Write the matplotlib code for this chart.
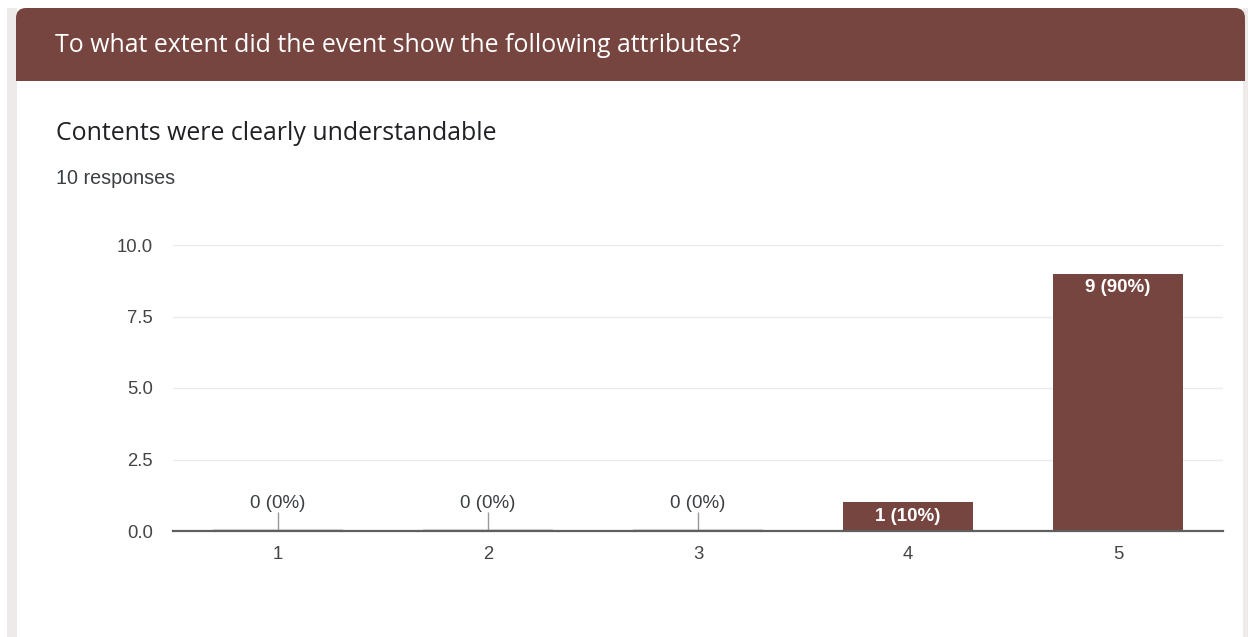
import matplotlib.pyplot as plt
from matplotlib.patches import FancyBboxPatch, Rectangle

HEADER = "To what extent did the event show the following attributes?"
QUESTION = "Contents were clearly understandable"
RESPONSES = "10 responses"

categories = ["1", "2", "3", "4", "5"]
counts = [0, 0, 0, 1, 9]
total = 10

BROWN = "#764540"
W, H = 1248, 637
LABEL_FONT = "Liberation Sans"


def px(x, y):
    """Pixel position (from top-left) to figure fraction."""
    return x / W, 1 - y / H


fig = plt.figure(figsize=(W / 100, H / 100), dpi=100)
fig.patch.set_facecolor("white")

# page background strips on both sides of the card
fig.patches.append(Rectangle(px(7, H), 10 / W, (H - 8) / H, transform=fig.transFigure,
                             facecolor="#edeae9", edgecolor="none", zorder=0))
fig.patches.append(Rectangle(px(1243, H), 5 / W, (H - 8) / H, transform=fig.transFigure,
                             facecolor="#edeae9", edgecolor="none", zorder=0))

# header band with rounded top corners
x0, y0 = px(16, 81)
fig.patches.append(FancyBboxPatch((x0, y0), (1245 - 16) / W, (81 - 8) / H,
                                  boxstyle="round,pad=0,rounding_size=0.008",
                                  transform=fig.transFigure, facecolor=BROWN,
                                  edgecolor="none", zorder=1, mutation_aspect=W / H))
fig.patches.append(Rectangle((x0, y0), (1245 - 16) / W, 30 / H, transform=fig.transFigure,
                             facecolor=BROWN, edgecolor="none", zorder=1))

fig.text(*px(55, 46), HEADER, color="white", fontsize=17.9, family="Open Sans",
         va="center", ha="left")
fig.text(*px(56, 133), QUESTION, color="#202124", fontsize=17.9, family="Open Sans",
         va="center", ha="left")
fig.text(*px(56, 178), RESPONSES, color="#3c4043", fontsize=14.2, family=LABEL_FONT,
         va="center", ha="left")

ax = fig.add_axes([173 / W, 1 - 531 / H, 1050 / W, 286 / H])
xs = list(range(1, len(categories) + 1))

ax.bar(xs, counts, width=0.62, color=BROWN, zorder=2)

for x, c in zip(xs, counts):
    label = f"{c} ({c / total:.0%})"
    if c == 0:
        ax.hlines(0.03, x - 0.31, x + 0.31, color="#d9d9d9", linewidth=1.5, zorder=2)
        ax.vlines(x, 0, 0.65, color="#999999", linewidth=1, zorder=2)
        ax.text(x, 0.97, label, ha="center", va="center", fontsize=13.5,
                family=LABEL_FONT, color="#3c4043")
    else:
        ax.annotate(label, (x, c), xytext=(0, -14), textcoords="offset pixels",
                    ha="center", va="center", fontsize=13.5, family=LABEL_FONT,
                    color="white", fontweight="bold")

ax.set_xlim(0.5, 5.5)
ax.set_ylim(0, 10)
ax.set_yticks([0, 2.5, 5, 7.5, 10])
ax.set_yticklabels(["0.0", "2.5", "5.0", "7.5", "10.0"])
ax.set_xticks(xs)
ax.set_xticklabels(categories)
ax.grid(axis="y", color="#ebebeb", linewidth=1, zorder=0)
ax.set_axisbelow(True)
for side in ["top", "right", "left"]:
    ax.spines[side].set_visible(False)
ax.spines["bottom"].set_color("#5f5f5f")
ax.spines["bottom"].set_linewidth(1.6)
ax.spines["bottom"].set_zorder(3)
ax.tick_params(axis="both", length=0, labelsize=13.3, labelcolor="#444444")
ax.tick_params(axis="y", pad=14.4)
ax.tick_params(axis="x", pad=11)
for t in ax.get_xticklabels() + ax.get_yticklabels():
    t.set_family(LABEL_FONT)

fig.savefig("out.png", dpi=100, facecolor="white")
